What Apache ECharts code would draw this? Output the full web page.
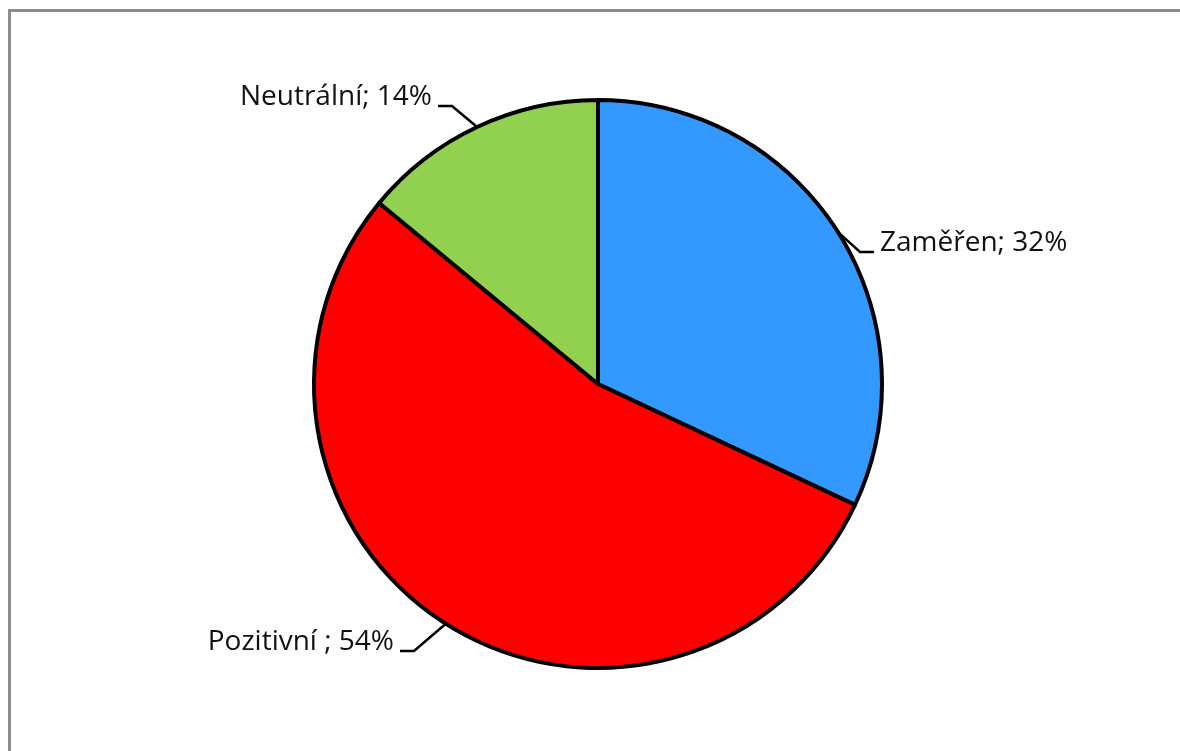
<!DOCTYPE html>
<html><head><meta charset="utf-8">
<script src="https://cdn.jsdelivr.net/npm/echarts@6/dist/echarts.min.js"></script>
<style>
html,body{margin:0;padding:0;background:#fff;width:1180px;height:751px;overflow:hidden;}
#frame{position:absolute;left:8px;top:9px;width:1200px;height:800px;border:3px solid #8c8c8c;box-sizing:border-box;}
#chart{position:absolute;left:0;top:0;width:1180px;height:751px;}
</style></head>
<body>
<div id="frame"></div>
<div id="chart"></div>
<script>
const categories = ['Zaměřen', 'Pozitivní ', 'Neutrální'];
const values = [32, 54, 14];
const colors = ['#3399FF', '#FF0000', '#92D050'];
// label anchor placement (x, y, alignment) per slice
const labelPlacement = [
  { x: 874, y: 252, align: 'left' },
  { x: 400, y: 651, align: 'right' },
  { x: 438, y: 106, align: 'right' }
];

const chart = echarts.init(document.getElementById('chart'));
chart.setOption({
  animation: false,
  series: [{
    type: 'pie',
    center: [598, 384],
    radius: 284,
    startAngle: 90,
    clockwise: true,
    data: categories.map((c, i) => ({ name: c, value: values[i], itemStyle: { color: colors[i] } })),
    itemStyle: { borderColor: '#000', borderWidth: 4 },
    label: {
      show: true,
      formatter: p => '{t|' + p.name + '; ' + Math.round(p.percent) + '%}\n{s|}',
      backgroundColor: 'rgba(255,255,255,0)',
      padding: [0, 6, 0, 6],
      distanceToLabelLine: 0,
      rich: {
        t: { fontFamily: 'Open Sans', fontSize: 28, color: '#111', lineHeight: 36 },
        s: { height: 18, lineHeight: 18, fontSize: 1 }
      }
    },
    labelLine: {
      show: true,
      length: 22,
      length2: 14,
      lineStyle: { color: '#000', width: 2.5 }
    },
    labelLayout: p => {
      const L = labelPlacement[p.dataIndex];
      return { x: L.x, y: L.y, align: L.align, verticalAlign: 'middle' };
    },
    emphasis: { disabled: true }
  }]
});
</script>
</body></html>
